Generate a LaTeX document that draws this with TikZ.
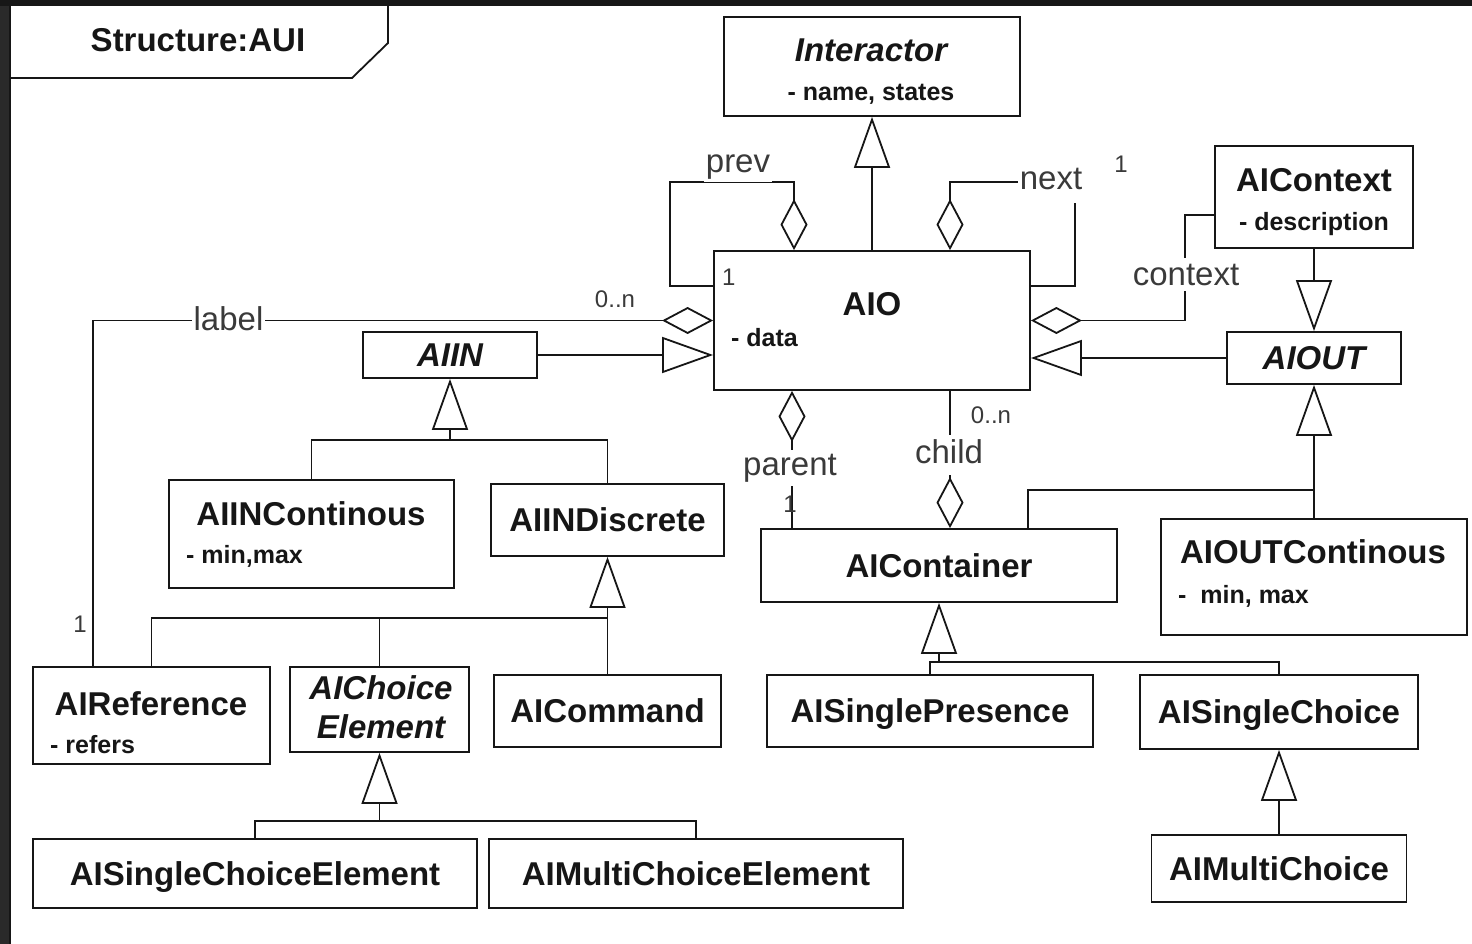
\documentclass[tikz,border=0pt]{standalone}
\usepackage{fontspec}
\setmainfont{Liberation Sans}
\usetikzlibrary{arrows.meta}

\definecolor{ink}{HTML}{161616}
\definecolor{rolegray}{HTML}{3A3A3A}
\definecolor{frameshade}{HTML}{2A2A2A}
\definecolor{topshade}{HTML}{171717}

\newcommand\clsfont{\fontsize{33}{38}\selectfont\bfseries}
\newcommand\attrfont{\fontsize{25}{30}\selectfont\bfseries}
\newcommand\rolefont{\fontsize{33}{39}\selectfont}
\newcommand\multfont{\fontsize{24}{28}\selectfont}

\tikzset{
  box/.style={draw=ink, line width=1.8pt, fill=white, inner sep=0pt,
    text=ink, font=\clsfont, text height=23.5pt, text depth=0pt, align=center},
  clsname/.style={anchor=base, inner sep=0pt, text=ink, font=\clsfont},
  attr/.style={anchor=base, inner sep=0pt, text=ink, font=\attrfont},
  role/.style={anchor=base, fill=white, inner sep=2pt, text=rolegray, font=\rolefont},
  mult/.style={anchor=base, inner sep=0pt, text=rolegray, font=\multfont},
  wire/.style={draw=ink, line width=1.8pt},
  gen/.style={wire, -{Triangle[open, length=51pt, width=36pt]}},
  aggr/.style={wire, -{Diamond[open, length=51pt, width=27pt]}},
  aggrback/.style={wire, {Diamond[open, length=51pt, width=27pt]}-},
}

\begin{document}
\begin{tikzpicture}[x=1pt, y=-1pt]
\useasboundingbox (0,0) rectangle (1472,944);

% sheet and frame
\fill[white] (0,0) rectangle (1472,944);
\fill[frameshade] (0,0) rectangle (9,944);
\fill[topshade] (0,0) rectangle (1472,6);
\draw[ink, line width=2pt] (10,944) -- (10,6);
\draw[ink, line width=1.8pt] (10,78) -- (352,78) -- (388,43) -- (388,6);
\node[clsname] (title) at (198,52) {Structure:AUI};

% class boxes
\node[box, minimum width=296pt, minimum height=99pt] (interactor) at (872,66.5) {};
\node[box, minimum width=316pt, minimum height=139pt] (aio) at (872,320.5) {};
\node[box, minimum width=198pt, minimum height=102pt] (ctx) at (1314,197) {};
\node[box, minimum width=174pt, minimum height=52pt, font=\clsfont\itshape] (aiout) at (1314,358) {AIOUT};
\node[box, minimum width=174pt, minimum height=46pt, font=\clsfont\itshape] (aiin) at (450,355) {AIIN};
\node[box, minimum width=285pt, minimum height=108pt] (aiinc) at (311.5,534) {};
\node[box, minimum width=233pt, minimum height=72pt] (aiind) at (607.5,520) {AIINDiscrete};
\node[box, minimum width=356pt, minimum height=73pt] (cont) at (939,565.5) {AIContainer};
\node[box, minimum width=306pt, minimum height=116pt] (aioutc) at (1314,577) {};
\node[box, minimum width=237pt, minimum height=97pt] (airef) at (151.5,715.5) {};
\node[box, minimum width=179pt, minimum height=85pt] (aichoice) at (379.5,709.5) {};
\node[box, minimum width=227pt, minimum height=72pt] (aicmd) at (607.5,711) {AICommand};
\node[box, minimum width=326pt, minimum height=72pt] (asp) at (930,711) {AISinglePresence};
\node[box, minimum width=278pt, minimum height=74pt] (asch) at (1279,712) {AISingleChoice};
\node[box, minimum width=444pt, minimum height=69pt] (asce) at (255,873.5) {AISingleChoiceElement};
\node[box, minimum width=414pt, minimum height=69pt] (amce) at (696,873.5) {AIMultiChoiceElement};
\node[box, minimum width=255pt, minimum height=67pt] (amc) at (1279,868.5) {AIMultiChoice};

% names and attributes of the two-part boxes
\node[clsname, font=\clsfont\itshape] (interactor-name) at (871,62) {Interactor};
\node[attr] (interactor-attr) at (871,101) {- name, states};
\node[clsname] (aio-name) at (872,315) {AIO};
\node[attr, anchor=base west] (aio-attr) at (731,346) {- data};
\node[mult, anchor=base west] (aio-one) at (722,285) {1};
\node[clsname] (ctx-name) at (1314,192) {AIContext};
\node[attr] (ctx-attr) at (1314,230) {- description};
\node[clsname] (aiinc-name) at (311,525) {AIINContinous};
\node[attr, anchor=base west] (aiinc-attr) at (186,563) {- min,max};
\node[clsname] (aioutc-name) at (1313,563) {AIOUTContinous};
\node[attr, anchor=base west] (aioutc-attr) at (1178,603) {-\ \ min, max};
\node[clsname] (airef-name) at (151,715) {AIReference};
\node[attr, anchor=base west] (airef-attr) at (50,753) {- refers};
\node[clsname, font=\clsfont\itshape] (aichoice-name) at (381,699) {AIChoice};
\node[clsname, font=\clsfont\itshape] (aichoice-name2) at (381,738) {Element};

% generalisations
\draw[gen] (aio.north) -- (interactor.south);
\draw[gen] (aiin.east) -- (aiin.east -| aio.west);
\draw[gen] (aiout.west) -- (aiout.west -| aio.east);
\draw[gen] (ctx.south) -- (aiout.north);

\coordinate (jin) at (450,440);
\draw[gen] (jin) -- (aiin.south);
\draw[wire] (aiinc.north) |- (jin);
\draw[wire] (aiind.north) |- (jin);

\coordinate (jdis) at (607.5,618);
\draw[gen] (aicmd.north) -- (aiind.south);
\draw[wire] (airef.north) |- (jdis);
\draw[wire] (aichoice.north) |- (jdis);

\coordinate (jch) at (379.5,821);
\draw[gen] (jch) -- (aichoice.south);
\draw[wire] (asce.north) |- (jch);
\draw[wire] (amce.north) |- (jch);

\coordinate (jout) at (1314,490);
\draw[gen] (aioutc.north) -- (aiout.south);
\draw[wire] ([xshift=89pt]cont.north) |- (jout);

\coordinate (jcont) at (939,662);
\draw[gen] (jcont) -- (cont.south);
\draw[wire] (asp.north) |- (jcont);
\draw[wire] (asch.north) |- (jcont);

\draw[gen] (amc.north) -- (asch.south);

% aggregations
\draw[aggr] ([yshift=34.5pt]aio.west) -| ++(-43,-104) -| ([xshift=-78pt]aio.north);
\draw[aggr] ([yshift=34.5pt]aio.east) -| ++(44,-104) -| ([xshift=78pt]aio.north);
\draw[aggr] ([xshift=-58.5pt]airef.north) |- (aio.west);
\draw[aggr] ([yshift=-18pt]ctx.west) -- ++(-29,0) |- (aio.east);
\draw[aggrback] ([xshift=-80pt]aio.south) -- ([xshift=-147pt]cont.north);
\draw[aggr] ([xshift=78pt]aio.south) -- ([xshift=11pt]cont.north);

% role names
\node[role] (prev-lbl) at (738,173) {prev};
\node[role, inner ysep=5pt, text depth=8pt] (next-lbl) at (1051,190) {next};
\node[role] (label-lbl) at (228.5,330) {label};
\node[role, inner ysep=6pt] (context-lbl) at (1186,285) {context};
\node[role, inner ysep=4pt] (parent-lbl) at (790,475) {parent};
\node[role, inner ysep=4pt, text depth=8pt] (child-lbl) at (949,463) {child};

% multiplicities
\node[mult] (label-many) at (615,307) {0..n};
\node[mult] (child-many) at (991,423) {0..n};
\node[mult] (next-one) at (1121,173) {1};
\node[mult] (label-one) at (80,632) {1};
\node[mult] (parent-one) at (790,512) {1};
\end{tikzpicture}
\end{document}
